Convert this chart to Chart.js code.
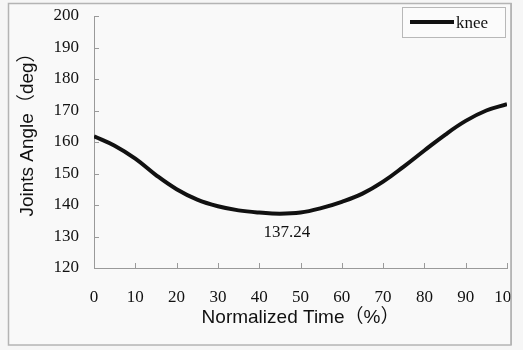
<!DOCTYPE html>
<html>
<head>
<meta charset="utf-8">
<script src="https://cdn.jsdelivr.net/npm/chart.js@4"></script>
<style>
  html, body { margin: 0; padding: 0; background: #f6f6f6; }
  #wrap { width: 523px; height: 350px; position: relative; }
</style>
</head>
<body>
<div id="wrap"><canvas id="chart" width="523" height="350"></canvas></div>
<script>
// ── Data ──────────────────────────────────────────────────────────────────────

const SERIES_LABEL = 'knee';
const timePct    = [0, 5, 10, 15, 20, 25, 30, 35, 40, 45, 50, 55, 60, 65, 70, 75, 80, 85, 90, 95, 100];
const kneeAngle  = [161.8, 158.8, 154.7, 149.5, 145.0, 141.7, 139.6, 138.3, 137.6, 137.24, 137.6, 139.0, 141.0, 143.6, 147.4, 152.2, 157.3, 162.3, 166.7, 170.0, 172.0];
const xTicks     = [0, 10, 20, 30, 40, 50, 60, 70, 80, 90, 100];
const yTicks     = [120, 130, 140, 150, 160, 170, 180, 190, 200];
const MIN_LABEL  = '137.24';

const SERIF = '"Liberation Serif", "DejaVu Serif", serif';
const SANS  = '"Liberation Sans", Arial, "Noto Sans CJK SC", sans-serif';
const AXIS_GRAY = '#9a9a9a';
const FRAME_GRAY = '#b4b4b4';

// ── Extra drawing: frame, inward ticks, y title, min label, legend ───────────

const decorations = {
  id: 'decorations',
  beforeDraw(chart) {
    const { ctx } = chart;
    ctx.save();
    ctx.fillStyle = '#f9f9f9';
    ctx.fillRect(8, 3, 503, 342);
    ctx.strokeStyle = FRAME_GRAY;
    ctx.lineWidth = 1.5;
    ctx.strokeRect(8.5, 3.5, 502.5, 341.5);
    ctx.restore();
  },
  afterDatasetsDraw(chart) {
    const { ctx, chartArea, scales: { x, y } } = chart;
    ctx.save();

    // inward tick marks
    ctx.strokeStyle = AXIS_GRAY;
    ctx.lineWidth = 1;
    yTicks.forEach(v => {
      const py = Math.round(y.getPixelForValue(v)) + 0.5;
      ctx.beginPath();
      ctx.moveTo(chartArea.left, py);
      ctx.lineTo(chartArea.left + 5, py);
      ctx.stroke();
    });
    xTicks.forEach(v => {
      const px = Math.round(x.getPixelForValue(v)) + 0.5;
      ctx.beginPath();
      ctx.moveTo(px, chartArea.bottom);
      ctx.lineTo(px, chartArea.bottom - 5);
      ctx.stroke();
    });

    // y axis title
    ctx.fillStyle = '#111';
    ctx.font = '19px ' + SANS;
    ctx.textAlign = 'center';
    ctx.textBaseline = 'middle';
    ctx.translate(28, 130);
    ctx.rotate(-Math.PI / 2);
    ctx.fillText('Joints Angle（deg）', 0, 0);
    ctx.setTransform(1, 0, 0, 1, 0, 0);

    // label under the minimum
    let iMin = 0;
    kneeAngle.forEach((v, i) => { if (v < kneeAngle[iMin]) iMin = i; });
    ctx.font = '17px ' + SERIF;
    ctx.fillText(MIN_LABEL, x.getPixelForValue(timePct[iMin]) + 7, y.getPixelForValue(kneeAngle[iMin]) + 19);

    // legend
    ctx.fillStyle = '#fbfbfb';
    ctx.fillRect(402, 7, 103, 30);
    ctx.strokeStyle = '#b8b8b8';
    ctx.lineWidth = 1;
    ctx.strokeRect(402.5, 7.5, 103, 30);
    ctx.strokeStyle = '#111';
    ctx.lineWidth = 4;
    ctx.beginPath();
    ctx.moveTo(410, 22);
    ctx.lineTo(454, 22);
    ctx.stroke();
    ctx.fillStyle = '#111';
    ctx.font = '17px ' + SERIF;
    ctx.textAlign = 'left';
    ctx.fillText(SERIES_LABEL, 456, 24);

    ctx.restore();
  },
  afterDraw(chart) {
    // the outer frame cuts off the last x label, as in the original
    const { ctx } = chart;
    ctx.save();
    ctx.fillStyle = '#f6f6f6';
    ctx.fillRect(512, 0, 11, 350);
    ctx.strokeStyle = FRAME_GRAY;
    ctx.lineWidth = 1.5;
    ctx.beginPath();
    ctx.moveTo(511.25, 3);
    ctx.lineTo(511.25, 345);
    ctx.stroke();
    ctx.restore();
  },
};

// ── Chart ─────────────────────────────────────────────────────────────────────

const hiddenTicks = len => ({
  display: true,
  drawOnChartArea: false,
  drawTicks: true,
  tickLength: len,
  tickColor: 'rgba(0,0,0,0)',
});

new Chart(document.getElementById('chart'), {
  type: 'line',
  data: {
    datasets: [{
      label: SERIES_LABEL,
      data: timePct.map((t, i) => ({ x: t, y: kneeAngle[i] })),
      borderColor: '#111',
      borderWidth: 4,
      pointRadius: 0,
      fill: false,
      tension: 0.4,
    }],
  },
  options: {
    responsive: false,
    animation: false,
    layout: { padding: { top: 16, right: 16, left: 0, bottom: 0 } },
    plugins: {
      legend: { display: false },
      tooltip: { enabled: false },
    },
    scales: {
      x: {
        type: 'linear',
        min: 0,
        max: 100,
        afterBuildTicks: s => { s.ticks = xTicks.map(v => ({ value: v })); },
        afterFit: s => { s.height = 82; },
        grid: hiddenTicks(19),
        border: { display: true, color: AXIS_GRAY, width: 1 },
        ticks: { color: '#111', padding: 0, maxRotation: 0, font: { family: SERIF, size: 17 } },
        title: {
          display: true,
          text: 'Normalized Time（%）',
          color: '#111',
          font: { family: SANS, size: 19 },
          padding: { top: 0, bottom: 21 },
        },
      },
      y: {
        min: 120,
        max: 200,
        afterBuildTicks: s => { s.ticks = yTicks.map(v => ({ value: v })); },
        afterFit: s => { s.width = 94; },
        grid: hiddenTicks(15),
        border: { display: true, color: AXIS_GRAY, width: 1 },
        ticks: { color: '#111', padding: 0, font: { family: SERIF, size: 17 } },
      },
    },
  },
  plugins: [decorations],
});
</script>
</body>
</html>
